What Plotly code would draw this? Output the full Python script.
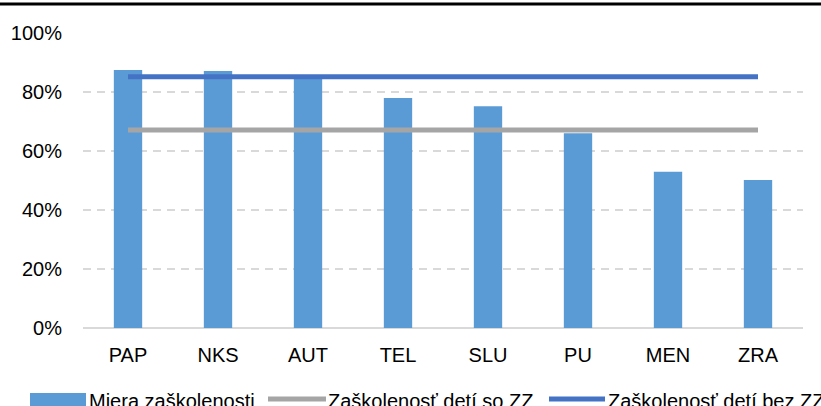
import plotly.graph_objects as go

categories = ["PAP", "NKS", "AUT", "TEL", "SLU", "PU", "MEN", "ZRA"]
miera_zaskolenosti = [0.875, 0.871, 0.85, 0.78, 0.752, 0.66, 0.53, 0.502]
zaskolenost_so_zz = [0.671] * len(categories)
zaskolenost_bez_zz = [0.852] * len(categories)
legend_labels = ["Miera zaškolenosti", "Zaškolenosť detí so ZZ", "Zaškolenosť detí bez ZZ"]

BAR_COLOR = "#5b9bd5"
GRAY = "#a5a5a5"
BLUE = "#4472c4"
FONT = "Liberation Sans, Arial, sans-serif"

W, H = 821, 406
ML, MR, MT, MB = 83, 18, 33, 78
PW, PH = W - ML - MR, H - MT - MB


def px(xp):
    return (xp - ML) / PW


def py(yp):
    return (H - MB - yp) / PH


fig = go.Figure()
fig.add_trace(go.Bar(
    x=categories, y=miera_zaskolenosti, name=legend_labels[0],
    marker=dict(color=BAR_COLOR, line=dict(width=0)), width=0.315,
))
fig.add_trace(go.Scatter(
    x=categories, y=zaskolenost_so_zz, name=legend_labels[1],
    mode="lines", line=dict(color=GRAY, width=5),
))
fig.add_trace(go.Scatter(
    x=categories, y=zaskolenost_bez_zz, name=legend_labels[2],
    mode="lines", line=dict(color=BLUE, width=5),
))

# custom legend (cut off at the bottom edge, as in the reference)
LEG_Y = 399
TEXT_Y = 401
shapes = [
    dict(type="line", xref="paper", yref="paper",
         x0=px(-10), x1=px(W + 10), y0=py(4), y1=py(4),
         line=dict(color="black", width=3)),
    dict(type="rect", xref="paper", yref="paper",
         x0=px(30), x1=px(86), y0=py(393), y1=py(412),
         fillcolor=BAR_COLOR, line=dict(width=0)),
    dict(type="line", xref="paper", yref="paper",
         x0=px(268), x1=px(326), y0=py(LEG_Y), y1=py(LEG_Y),
         line=dict(color=GRAY, width=5)),
    dict(type="line", xref="paper", yref="paper",
         x0=px(549), x1=px(605), y0=py(LEG_Y), y1=py(LEG_Y),
         line=dict(color=BLUE, width=5)),
]
annotations = []
for label, xs in zip(legend_labels, [88, 327, 607]):
    annotations.append(dict(
        text=label, xref="paper", yref="paper", x=px(xs), y=py(TEXT_Y),
        xanchor="left", yanchor="middle", showarrow=False,
        font=dict(family=FONT, size=20, color="#000000"),
        borderpad=0,
    ))

fig.update_layout(
    width=W, height=H,
    margin=dict(l=ML, r=MR, t=MT, b=MB, autoexpand=False),
    paper_bgcolor="white", plot_bgcolor="white",
    font=dict(family=FONT, size=20, color="#000000"),
    showlegend=False,
    xaxis=dict(
        range=[-0.5, 7.5], showgrid=False, zeroline=False, showline=False,
        ticks="", ticklabelstandoff=13, automargin=False,
        tickfont=dict(family=FONT, size=20, color="#000000"),
    ),
    yaxis=dict(
        range=[0, 1.0], tickvals=[0, 0.2, 0.4, 0.6, 0.8, 1.0],
        tickformat=".0%", showgrid=True, gridcolor="#d9d9d9",
        griddash="8px,6px", gridwidth=1.5,
        zeroline=True, zerolinecolor="#d9d9d9", zerolinewidth=1.5,
        showline=False, ticks="", ticklabelstandoff=20, automargin=False,
        tickfont=dict(family=FONT, size=20, color="#000000"),
    ),
    shapes=shapes,
    annotations=annotations,
)

fig.write_html(
    "out.html",
    config={"displayModeBar": False},
    post_script="document.body.style.margin='0';document.body.style.overflow='hidden';",
)
